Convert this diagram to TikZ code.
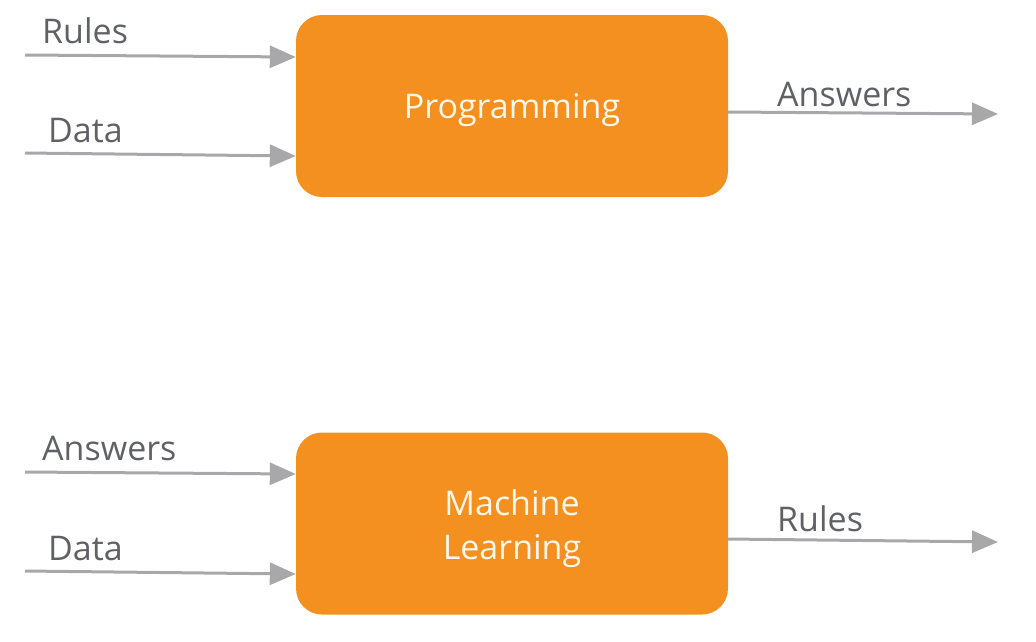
\documentclass[tikz,border=0pt]{standalone}
\usepackage{fontspec}
\setmainfont{Open Sans}
\usetikzlibrary{arrows.meta,positioning}
\definecolor{boxorange}{HTML}{F3901F}
\definecolor{boxtext}{HTML}{FFF8EA}
\definecolor{linegray}{HTML}{A8A8AA}
\definecolor{textgray}{HTML}{5F6166}
% a line of text with fixed height and depth, so its baseline sits at a set place
\newcommand{\fixedline}[3]{\raisebox{0pt}[#1][#2]{#3}}
\begin{document}
\begin{tikzpicture}[x=1pt,y=-1pt,
  procbox/.style={fill=boxorange, rounded corners=26pt, minimum width=432pt,
    minimum height=182pt, inner sep=0pt, text=boxtext, align=center,
    font=\fontsize{34}{44}\selectfont},
  lbl/.style={anchor=base west, text=textgray, inner sep=0pt,
    font=\fontsize{34}{40}\selectfont},
  flow/.style={draw=linegray, line width=3pt,
    -{Triangle[length=26pt,width=22pt]}}]
  \useasboundingbox (0,0) rectangle (1036,641);

  % conventional programming
  \node[procbox] (prog) at (512,106) {\fixedline{28pt}{4pt}{Programming}};
  \node[lbl] (rulesin) at (42,43) {Rules};
  \node[lbl] (datain) at (48,142) {Data};
  \node[lbl] (ansout) at (777,106) {Answers};
  \coordinate (p1s) at (25,55);
  \coordinate (p2s) at (25,153);
  \coordinate (p3e) at (998,114);
  \draw[flow] (p1s) -- ([yshift=-2pt]p1s -| prog.west);
  \draw[flow] (p2s) -- ([yshift=-3pt]p2s -| prog.west);
  \draw[flow] (p3e -| prog.east) ++(0,-2) -- (p3e);

  % machine learning
  \node[procbox] (ml) at (512,523.5)
    {\fixedline{29pt}{0pt}{Machine}\\\fixedline{0pt}{2pt}{Learning}};
  \node[lbl] (ansin) at (42,460) {Answers};
  \node[lbl] (datain2) at (48,560) {Data};
  \node[lbl] (rulesout) at (777,531) {Rules};
  \coordinate (m1s) at (25,472);
  \coordinate (m2s) at (25,571);
  \coordinate (m3e) at (998,542);
  \draw[flow] (m1s) -- ([yshift=-2pt]m1s -| ml.west);
  \draw[flow] (m2s) -- ([yshift=-3pt]m2s -| ml.west);
  \draw[flow] (m3e -| ml.east) ++(0,-3) -- (m3e);
\end{tikzpicture}
\end{document}
